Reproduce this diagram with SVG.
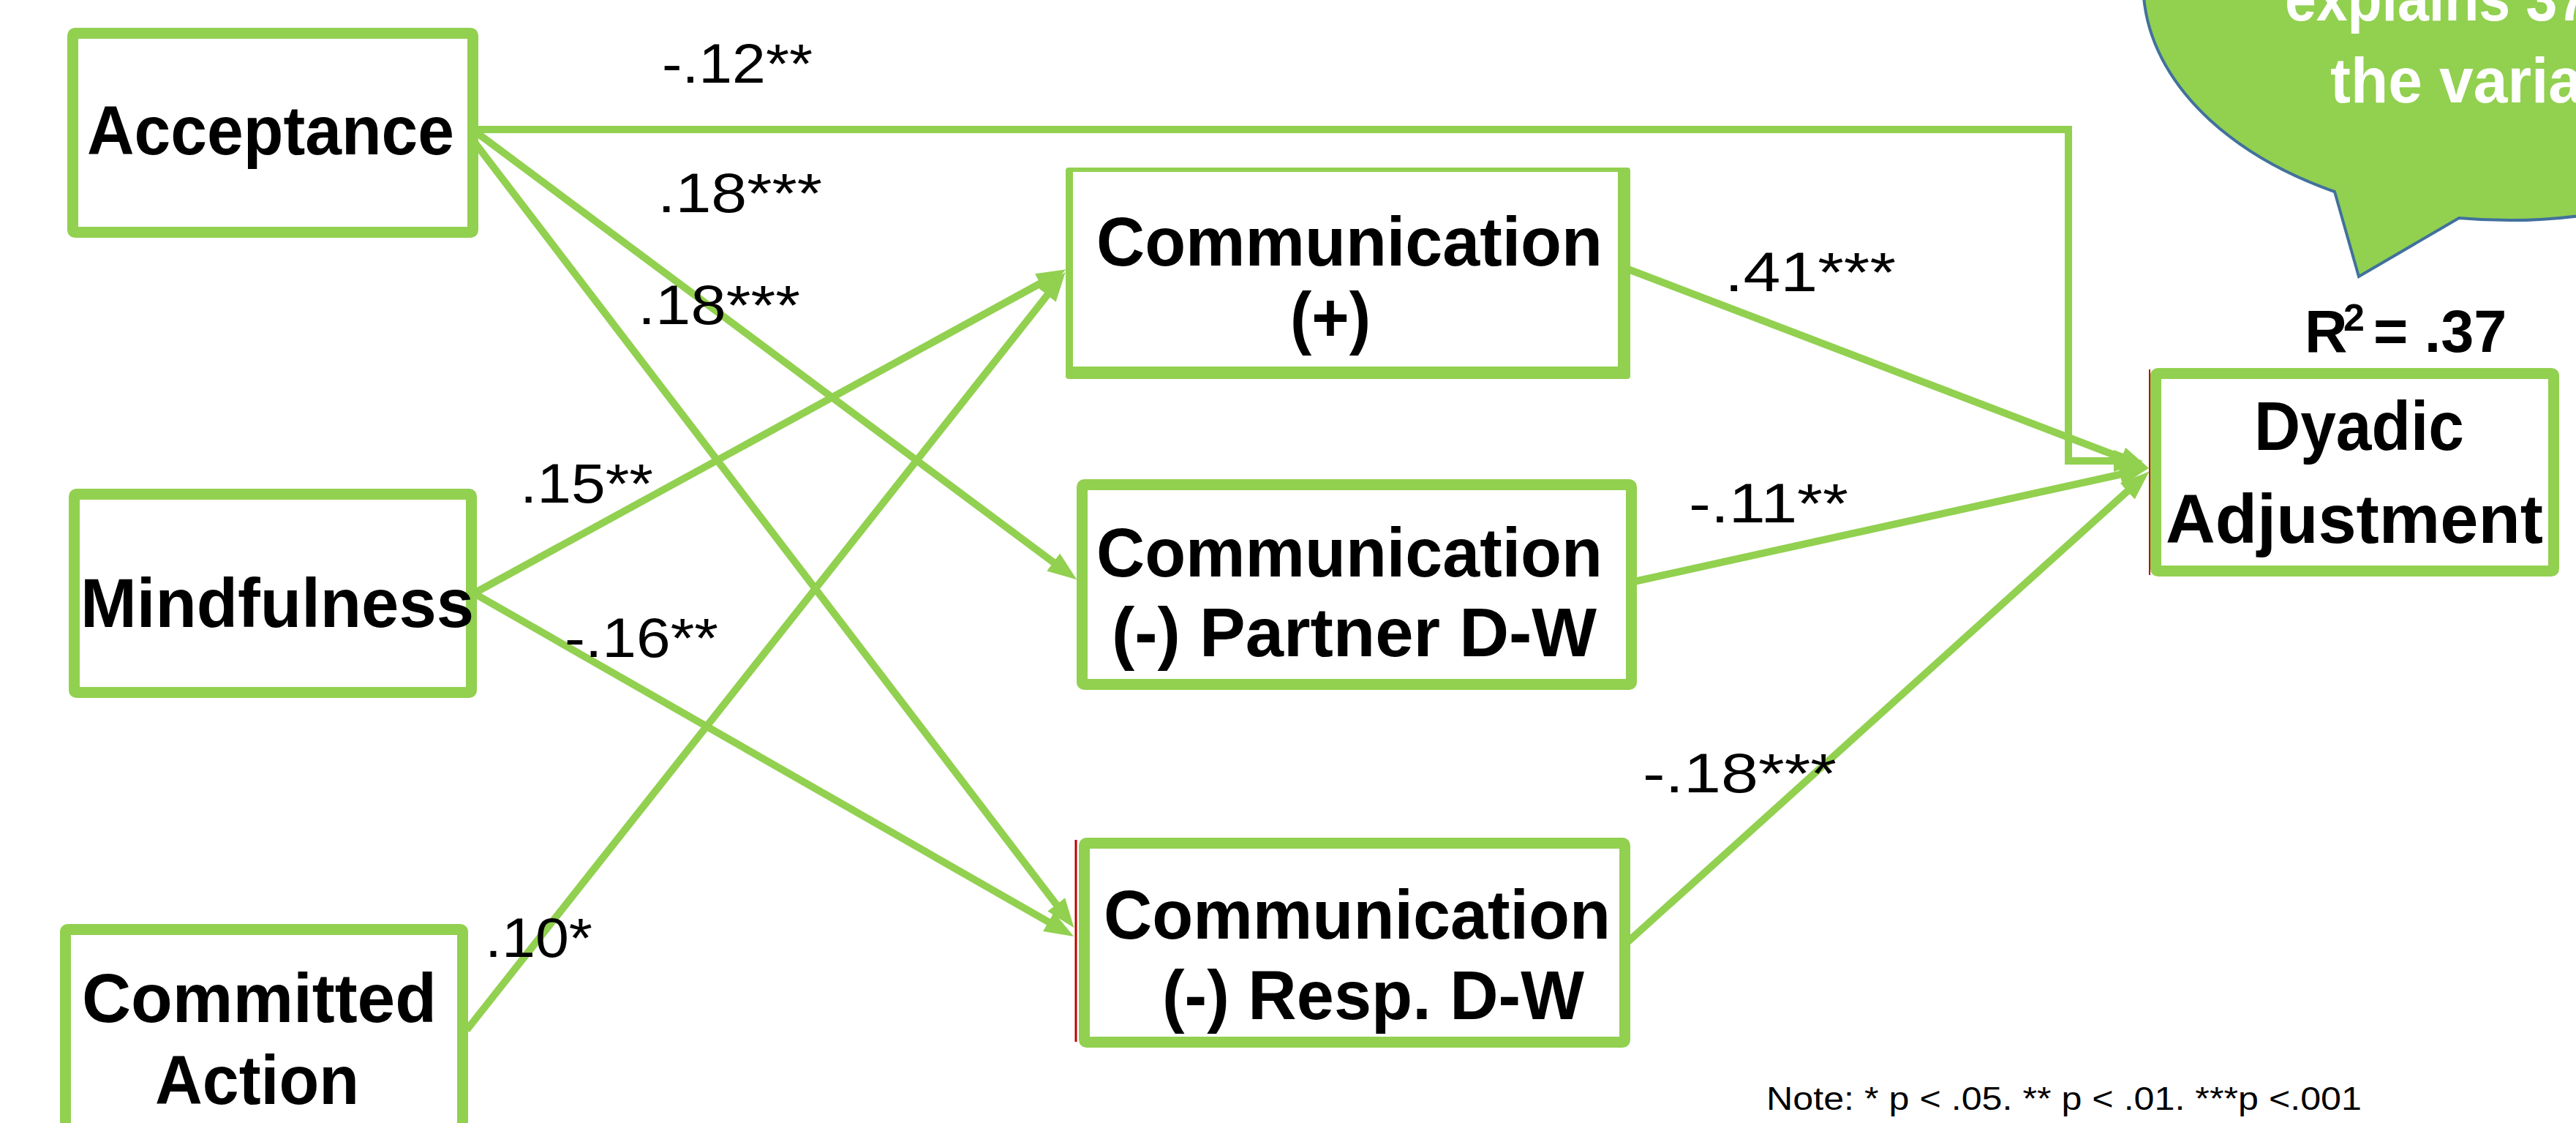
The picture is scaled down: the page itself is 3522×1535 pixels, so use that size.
<svg xmlns="http://www.w3.org/2000/svg" width="3522" height="1535" viewBox="0 0 3522 1535">
<style>
.box{fill:#fff;stroke:#92D050;stroke-width:15}
.band{fill:#92D050;fill-rule:evenodd}
.nt{font-family:"Liberation Sans",Arial,sans-serif;font-weight:bold;font-size:94px;fill:#000}
.lbl{font-family:"Liberation Sans",Arial,sans-serif;font-size:76px;fill:#000}
.note{font-family:"Liberation Sans",Arial,sans-serif;font-size:45px;fill:#000}
.conn{fill:none;stroke:#92D050;stroke-width:10}
.arr{marker-end:url(#ah)}
.bub{fill:#92D050;stroke:#41719C;stroke-width:4}
.bt{font-family:"Liberation Sans",Arial,sans-serif;font-weight:bold;font-size:88px;fill:#fff}
</style>
<defs>
<marker id="ah" markerUnits="userSpaceOnUse" markerWidth="40" markerHeight="30" viewBox="0 0 40 30" refX="26" refY="15" orient="auto">
<path d="M0,0 L40,15 L0,30 z" fill="#92D050"/>
</marker>
</defs>
<rect x="0" y="0" width="3522" height="1535" fill="#fff"/>

<g id="callout">
<path class="bub" d="M3192,262 L3225,378 L3362,298 A500 323 0 1 0 3192,262 Z"/>
<text class="bt" x="3124" y="28" textLength="415" lengthAdjust="spacingAndGlyphs">explains 37</text>
<text class="bt" x="3186" y="140" textLength="345" lengthAdjust="spacingAndGlyphs">the varia</text>
</g>

<g id="connectors">
<path id="e-acc-dya" class="conn arr" d="M629,177 H2828 V630 H2916"/>
<path id="e-acc-par" class="conn arr" d="M650,180 L1461,784"/>
<path id="e-acc-res" class="conn arr" d="M650,196 L1460,1257"/>
<path id="e-min-pos" class="conn arr" d="M648,811 L1445,375"/>
<path id="e-min-res" class="conn arr" d="M648,811 L1456,1273"/>
<path id="e-com-pos" class="conn arr" d="M638,1408 L1448,383"/>
<path id="e-pos-dya" class="conn arr" d="M2226,368 L2925,635"/>
<path id="e-par-dya" class="conn arr" d="M2234,795 L2924,643"/>
<path id="e-res-dya" class="conn arr" d="M2226,1287 L2928,654"/>
</g>

<g id="node-acceptance">
<rect class="box" x="99.5" y="45.5" width="547" height="272" rx="3"/>
<text class="nt" x="119" y="211" textLength="502" lengthAdjust="spacingAndGlyphs">Acceptance</text>
</g>
<g id="node-mindfulness">
<rect class="box" x="101.5" y="675.5" width="543" height="271" rx="3"/>
<text class="nt" x="110" y="857" textLength="538" lengthAdjust="spacingAndGlyphs">Mindfulness</text>
</g>
<g id="node-committed">
<rect class="box" x="89.5" y="1270.5" width="543" height="300" rx="3"/>
<text class="nt" x="112" y="1397" textLength="485" lengthAdjust="spacingAndGlyphs">Committed</text>
<text class="nt" x="212" y="1509" textLength="279" lengthAdjust="spacingAndGlyphs">Action</text>
</g>
<g id="node-comm-pos">
<rect x="1462" y="232" width="760" height="280" fill="#fff"/>
<path class="band" d="M1461,229 H2225 Q2229,229 2229,233 V514 Q2229,518 2225,518 H1461 Q1457,518 1457,514 V233 Q1457,229 1461,229 Z M1467,235 V501 H2212 V235 Z"/>
<text class="nt" x="1499" y="363" textLength="692" lengthAdjust="spacingAndGlyphs">Communication</text>
<text class="nt" x="1764" y="466" textLength="110" lengthAdjust="spacingAndGlyphs">(+)</text>
</g>
<g id="node-comm-partner">
<rect class="box" x="1479.5" y="662.5" width="751" height="273" rx="3"/>
<text class="nt" x="1499" y="788" textLength="692" lengthAdjust="spacingAndGlyphs">Communication</text>
<text class="nt" x="1520" y="897" textLength="663" lengthAdjust="spacingAndGlyphs">(-) Partner D-W</text>
</g>
<g id="node-comm-resp">
<line x1="1471" y1="1148" x2="1471" y2="1424" stroke="#C00000" stroke-width="3"/>
<rect class="box" x="1482.5" y="1152.5" width="739" height="272" rx="3"/>
<text class="nt" x="1509" y="1283" textLength="693" lengthAdjust="spacingAndGlyphs">Communication</text>
<text class="nt" x="1589" y="1393" textLength="577" lengthAdjust="spacingAndGlyphs">(-) Resp. D-W</text>
</g>
<g id="node-dyadic">
<line x1="2939" y1="505" x2="2939" y2="786" stroke="#C00000" stroke-width="2"/>
<rect class="box" x="2947.5" y="510.5" width="544" height="270" rx="3"/>
<text class="nt" x="3082" y="615" textLength="287" lengthAdjust="spacingAndGlyphs">Dyadic</text>
<text class="nt" x="2961" y="742" textLength="516" lengthAdjust="spacingAndGlyphs">Adjustment</text>
<text class="nt" style="font-size:81px" x="3151" y="481">R<tspan x="3204" y="452" style="font-size:52px">2</tspan><tspan x="3245" y="481">= .37</tspan></text>
</g>

<g id="labels">
<text class="lbl" x="905" y="113" textLength="206" lengthAdjust="spacingAndGlyphs">-.12**</text>
<text class="lbl" x="899" y="290" textLength="225" lengthAdjust="spacingAndGlyphs">.18***</text>
<text class="lbl" x="872" y="443" textLength="222" lengthAdjust="spacingAndGlyphs">.18***</text>
<text class="lbl" x="711" y="687" textLength="182" lengthAdjust="spacingAndGlyphs">.15**</text>
<text class="lbl" x="772" y="898" textLength="210" lengthAdjust="spacingAndGlyphs">-.16**</text>
<text class="lbl" x="663" y="1308" textLength="147" lengthAdjust="spacingAndGlyphs">.10*</text>
<text class="lbl" x="2358" y="398" textLength="234" lengthAdjust="spacingAndGlyphs">.41***</text>
<text class="lbl" x="2309" y="714" textLength="218" lengthAdjust="spacingAndGlyphs">-.11**</text>
<text class="lbl" x="2246" y="1083" textLength="265" lengthAdjust="spacingAndGlyphs">-.18***</text>
<text class="note" x="2415" y="1517" textLength="814" lengthAdjust="spacingAndGlyphs">Note: * p &lt; .05. ** p &lt; .01. ***p &lt;.001</text>
</g>
</svg>
